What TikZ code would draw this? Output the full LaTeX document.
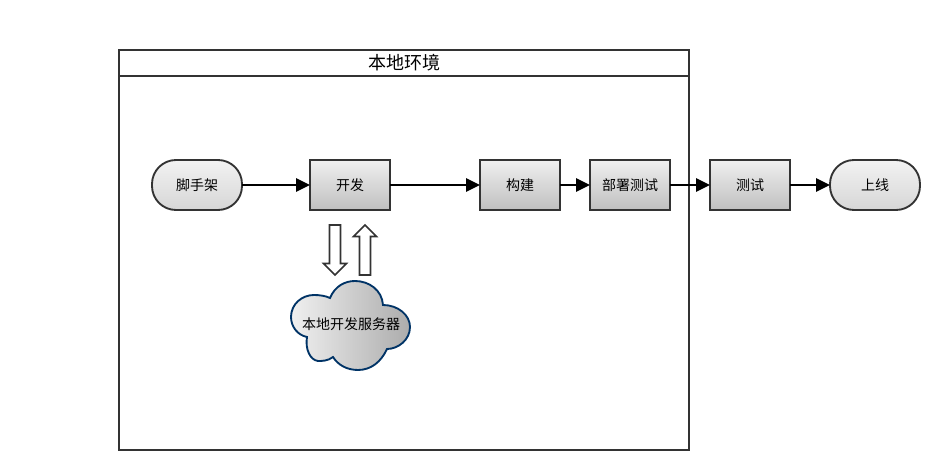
\documentclass[tikz,border=0pt]{standalone}
\usepackage{fontspec}
\setmainfont{Noto Sans CJK SC}
\usetikzlibrary{arrows.meta,positioning,shapes.arrows}
\definecolor{edgegray}{HTML}{333333}
\definecolor{cloudblue}{HTML}{003366}

\begin{document}
\begin{tikzpicture}[
    x=0.75pt, y=-0.75pt,
    task/.style={draw=edgegray, line width=1.4pt, outer sep=0pt, minimum width=60pt, minimum height=37.5pt, align=center, font=\fontsize{10.5}{12}\selectfont, top color=gray!12, bottom color=gray!50},
    terminal/.style={task, rounded corners=18pt, minimum width=67.5pt, top color=gray!10, bottom color=gray!32},
    frame/.style={draw=edgegray, line width=1.3pt, minimum width=427.5pt, inner sep=0pt, outer sep=0pt},
    blockarrow/.style={draw=edgegray, line width=1.3pt, fill=white, single arrow, single arrow head extend=4.5pt, single arrow tip angle=90, inner sep=3.4pt, outer sep=0pt, minimum height=37.5pt, shape border rotate=#1},
    arrow/.style={-{Triangle[length=10.5pt, width=10pt]}, line width=1.4pt}
]
\useasboundingbox (0,0) rectangle (940,470);

\node[frame, minimum height=300pt] (envbox) at (404,250) {};
\node[frame, minimum height=19.5pt, font=\fontsize{13.5}{15}\selectfont, anchor=north] (envtitle) at (envbox.north) {\raisebox{0.7pt}{本地环境}};

\node[terminal] (scaffold) at (197,185) {脚手架};
\node[task, right=51pt of scaffold] (dev) {开发};
\node[task, right=67.5pt of dev] (build) {构建};
\node[task, right=22.5pt of build] (deploy) {部署测试};
\node[task, right=30pt of deploy] (qa) {测试};
\node[terminal, right=30pt of qa] (online) {上线};

\draw[arrow] (scaffold) -- (dev);
\draw[arrow] (dev) -- (build);
\draw[arrow] (build) -- (deploy);
\draw[arrow] (deploy) -- (qa);
\draw[arrow] (qa) -- (online);

\node[blockarrow=270, below=11.25pt of dev, xshift=-11.25pt] (pull) {};
\node[blockarrow=90, below=11.25pt of dev, xshift=11.25pt] (push) {};

\draw[draw=cloudblue, line width=1.4pt, left color=gray!12, right color=gray!65]
    (330,298) .. controls (335,286) and (345,281) .. (355,281)
    .. controls (369,281) and (382,290) .. (383,305)
    .. controls (398,305) and (410,315) .. (410,327)
    .. controls (410,340) and (398,349) .. (387,349)
    .. controls (381,362) and (371,370) .. (358,370)
    .. controls (347,370) and (338,365) .. (333,357)
    .. controls (328,361) and (322,361) .. (318,361)
    .. controls (310,360) and (305,349) .. (307,337)
    .. controls (297,335) and (291,326) .. (291,317)
    .. controls (291,304) and (302,295) .. (314,295)
    .. controls (320,295) and (326,296) .. (330,298) -- cycle;
\node[font=\fontsize{10.5}{12}\selectfont, inner sep=0pt] (devserver) at (351,324) {本地开发服务器};
\end{tikzpicture}
\end{document}
